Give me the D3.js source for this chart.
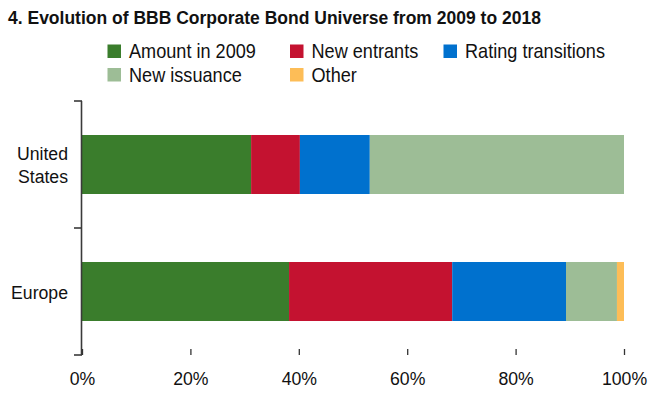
<!DOCTYPE html>
<html>
<head>
<meta charset="utf-8">
<script src="https://cdn.jsdelivr.net/npm/d3@7"></script>
<style>
  body { margin: 0; background: #fff; }
  svg text { font-family: "Liberation Sans", Arial, sans-serif; fill: #111; }
</style>
</head>
<body>
<div id="chart"></div>
<script>
var width = 662, height = 393;
var regions = ["United States", "Europe"];
var seriesNames = ["Amount in 2009", "New entrants", "Rating transitions", "New issuance", "Other"];
var colors = ["#3a7d2c", "#c41230", "#0071ce", "#9dbd96", "#fdbd57"];
// share of 2018 BBB universe, percent
var amount2009 = [31.2, 38.2];
var newEntrants = [9.0, 30.1];
var ratingTransitions = [12.9, 21.0];
var newIssuance = [46.9, 9.4];
var other = [0.0, 1.3];
var xTicks = [0, 20, 40, 60, 80, 100];

var narrow = 0.93; // the original uses a condensed face

var rows = regions.map(function(r, i) {
  return { region: r, "Amount in 2009": amount2009[i], "New entrants": newEntrants[i],
    "Rating transitions": ratingTransitions[i], "New issuance": newIssuance[i], "Other": other[i] };
});
var stacked = d3.stack().keys(seriesNames)(rows);

var svg = d3.select('#chart').append('svg')
  .attr('width', width).attr('height', height);

// condensed text helper
function ntext(parent, x, y, str, size, anchor) {
  return parent.append('text')
    .attr('transform', 'translate(' + x + ',' + y + ') scale(' + narrow + ',1)')
    .attr('text-anchor', anchor || 'start')
    .style('font-size', size + 'px')
    .text(str);
}

svg.append('text')
  .attr('x', 8).attr('y', 24)
  .style('font-size', '17.5px').style('font-weight', 'bold')
  .text('4. Evolution of BBB Corporate Bond Universe from 2009 to 2018');

// legend
var legPos = [[107.5, 44.5], [290, 44.5], [443.5, 44.5], [107.5, 68], [290, 68]];
seriesNames.forEach(function(s, i) {
  var g = svg.append('g').attr('transform', 'translate(' + legPos[i][0] + ',' + legPos[i][1] + ')');
  g.append('rect').attr('width', 13.5).attr('height', 13.5).attr('fill', colors[i]);
  ntext(g, 21.5, 13.5, s, 19.5);
});

var x = d3.scaleLinear().domain([0, 100]).range([82, 624]);
var y = d3.scaleBand().domain(regions).range([101, 355]).paddingInner(0).paddingOuter(0);
var barH = 59;

svg.selectAll('.series')
  .data(stacked)
  .enter().append('g')
  .attr('fill', function(d, i) { return colors[i]; })
  .selectAll('rect')
  .data(function(d) { return d; })
  .enter().append('rect')
  .attr('x', function(d) { return x(d[0]); })
  .attr('width', function(d) { return x(d[1]) - x(d[0]); })
  .attr('y', function(d) { return y(d.data.region) + y.bandwidth() / 2 - barH / 2; })
  .attr('height', barH);

// y axis: line with ticks at band edges
var yAxisG = svg.append('g').attr('stroke', '#3a3a3a').attr('stroke-width', 1.6);
yAxisG.append('line').attr('x1', 81.5).attr('x2', 81.5).attr('y1', 101).attr('y2', 355);
[101, y(regions[1]), 355].forEach(function(v) {
  yAxisG.append('line').attr('x1', 74).attr('x2', 82).attr('y1', v).attr('y2', v);
});

// category labels
var labelG = svg.append('g');
var usMid = y('United States') + y.bandwidth() / 2;
ntext(labelG, 68, usMid - 5, 'United', 19, 'end');
ntext(labelG, 68, usMid + 18, 'States', 19, 'end');
ntext(labelG, 68, y('Europe') + y.bandwidth() / 2 + 7, 'Europe', 19, 'end');

// x axis: short ticks pointing up, no baseline
var xAxis = d3.axisBottom(x).tickValues(xTicks).tickSize(-6).tickPadding(17)
  .tickFormat(function(d) { return d + '%'; });
var xAxisG = svg.append('g').attr('transform', 'translate(0,355)').call(xAxis);
xAxisG.select('.domain').remove();
xAxisG.selectAll('.tick line').attr('stroke', '#333').attr('stroke-width', 1.3);
xAxisG.selectAll('.tick text')
  .style('font-size', '19px')
  .style('font-family', '"Liberation Sans", Arial, sans-serif')
  .attr('fill', '#111')
  .attr('transform', 'scale(' + narrow + ',1)')
  .attr('x', function(d) { return 0; });
</script>
</body>
</html>
